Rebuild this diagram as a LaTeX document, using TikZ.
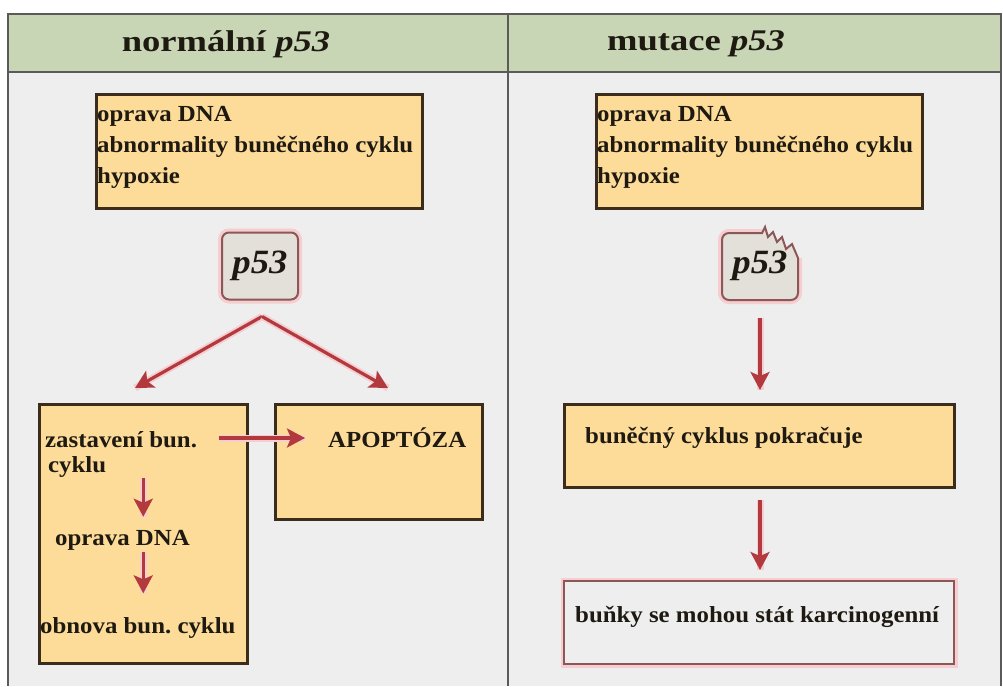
\documentclass[tikz,border=0pt]{standalone}
\usepackage{fontspec}
\usetikzlibrary{arrows.meta,positioning,calc}
\newfontfamily\diafont[FakeStretch=1.08]{Liberation Serif}
\newfontfamily\headfont[FakeStretch=1.22]{Liberation Serif}

\definecolor{panelbg}{HTML}{EEEEEE}
\definecolor{headgreen}{HTML}{C9D6B6}
\definecolor{framegray}{HTML}{5A5A5A}
\definecolor{boxfill}{HTML}{FDDC99}
\definecolor{boxline}{HTML}{3B2C1C}
\definecolor{arrowred}{HTML}{B23A3E}
\definecolor{glowpink}{HTML}{F6CDD0}
\definecolor{p53fill}{HTML}{E3DFD9}
\definecolor{p53line}{HTML}{8C5757}
\definecolor{inkdark}{HTML}{1E1A12}

\tikzset{
  frame/.style={draw=framegray, line width=2.5pt},
  infobox/.style={draw=boxline, line width=2.5pt, fill=boxfill, anchor=north west, inner sep=0pt},
  carcbox/.style={draw=p53line, line width=2pt, fill=panelbg, anchor=north west, inner sep=0pt,
    preaction={draw=glowpink, line width=7pt}},
  txt/.style={font=\diafont\bfseries\fontsize{23}{31}\selectfont, text=inkdark, inner sep=0pt, align=left},
  headtxt/.style={font=\headfont\bfseries\fontsize{30}{32}\selectfont, text=inkdark, inner sep=0pt},
  p53txt/.style={font=\diafont\bfseries\itshape\fontsize{34}{36}\selectfont, text=inkdark,
    minimum width=76pt, minimum height=67pt, inner sep=0pt},
  p53box/.style={p53txt, draw=p53line, line width=2pt, fill=p53fill, rounded corners=7pt,
    preaction={draw=glowpink, line width=8pt}},
  redarrow/.style={draw=arrowred, line width=3.2pt, -{Stealth[length=18pt,width=19pt,inset=4pt]},
    preaction={draw=glowpink, line width=7pt, arrows=-}}
}

\begin{document}
\begin{tikzpicture}[x=1pt,y=-1pt]
  \useasboundingbox (0,0) rectangle (1003,686);
  \fill[white] (0,0) rectangle (1003,686);
  \fill[panelbg] (8,14) rectangle (1001,686);
  \fill[headgreen] (8,14) rectangle (1001,72);
  \draw[frame] (8,686) -- (8,14) -- (1001,14) -- (1001,686);
  \draw[frame] (8,72) -- (1001,72);
  \draw[frame] (508,14) -- (508,686);

  \node[headtxt] (headL) at (226,44) {normální {\itshape p53}};
  \node[headtxt] (headR) at (696,44) {mutace {\itshape p53}};

  % normal p53
  \node[infobox, minimum width=326pt, minimum height=114pt] (causesL) at (95,93) {};
  \node[txt, anchor=north west] (causesLtxt) at ([shift={(2,13)}]causesL.north west)
    {oprava DNA\\abnormality buněčného cyklu\\hypoxie};
  \node[p53box] (p53L) at (260,266) {p53};

  \coordinate (forkL) at ([shift={(2,16)}]p53L.south);
  \coordinate (toStop) at (135,388);
  \coordinate (toApo) at (388,388);
  \draw[redarrow] (forkL) -- (toStop);
  \draw[redarrow] (forkL) -- (toApo);

  \node[infobox, minimum width=208pt, minimum height=259pt] (stopBox) at (38,403) {};
  \node[txt, anchor=west] (stopA) at (45,440) {zastavení bun.};
  \node[txt, anchor=west] (stopB) at (48,467) {cyklu};
  \node[txt, anchor=west] (repair) at (55,540) {oprava DNA};
  \node[txt, anchor=west] (restart) at (40,628) {obnova bun.\ cyklu};

  \node[infobox, minimum width=207pt, minimum height=115pt] (apoBox) at (274,403) {};
  \node[txt, anchor=west] (apo) at (328,438) {APOPTÓZA};

  \draw[redarrow, shorten <=0pt, shorten >=13pt] (stopBox.center |- stopB.south) -- (stopBox.center |- repair.north);
  \draw[redarrow, shorten <=2pt, shorten >=24pt] (stopBox.center |- repair.south) -- (stopBox.center |- restart.north);
  \draw[redarrow, shorten <=22pt, shorten >=23pt] (stopA.east |- apo.west) -- (apo.west);

  % mutated p53
  \node[infobox, minimum width=326pt, minimum height=114pt] (causesR) at (595,93) {};
  \node[txt, anchor=north west] (causesRtxt) at ([shift={(2,13)}]causesR.north west)
    {oprava DNA\\abnormality buněčného cyklu\\hypoxie};

  \draw[draw=glowpink, line width=8pt] (762,233) [rounded corners=7pt] -- (722,233) -- (722,300) -- (798,300) [sharp corners] -- (798,258);
  \filldraw[fill=p53fill, draw=p53line, line width=2pt] (762,233) [rounded corners=7pt] -- (722,233) -- (722,300) -- (798,300) [sharp corners] -- (798,258)
    -- (792,244) -- (786,249) -- (782,237) -- (777,242) -- (773,232) -- (768,237) -- (765,227) -- cycle;
  \node[p53txt] (p53R) at (760,266) {p53};

  \node[infobox, minimum width=390pt, minimum height=83pt] (contBox) at (563,403) {};
  \node[txt, anchor=west] (cont) at (585,438) {buněčný cyklus pokračuje};
  \node[carcbox, minimum width=390pt, minimum height=83pt] (carcBox) at (563,580) {};
  \node[txt, anchor=west] (carc) at (575,617) {buňky se mohou stát karcinogenní};

  \draw[redarrow, shorten <=18pt, shorten >=13pt] (p53R.south) -- (contBox.north -| p53R.south);
  \draw[redarrow, shorten <=11pt, shorten >=10pt] (contBox.south -| p53R.south) -- (carcBox.north -| p53R.south);
\end{tikzpicture}
\end{document}
